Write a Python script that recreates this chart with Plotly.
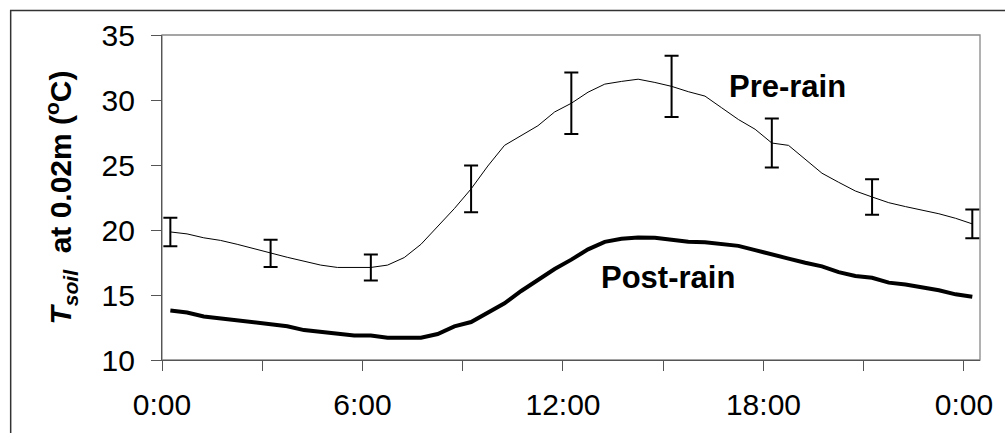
import plotly.graph_objects as go

# hours of day (half-hour readings)
hours = [0.25 + 0.5 * i for i in range(49)]

pre_rain = [19.85, 19.7, 19.4, 19.2, 18.9, 18.55, 18.2, 17.9, 17.6, 17.3,
            17.12, 17.12, 17.12, 17.3, 17.88, 18.9, 20.3, 21.65, 23.16, 24.92,
            26.51, 27.24, 28.02, 29.08, 29.75, 30.6, 31.22, 31.43, 31.6, 31.35,
            31.05, 30.64, 30.3, 29.4, 28.5, 27.75, 26.69, 26.51, 25.43, 24.37,
            23.67, 23.0, 22.54, 22.1, 21.8, 21.55, 21.25, 20.9, 20.47]

post_rain = [13.8, 13.65, 13.35, 13.2, 13.05, 12.9, 12.75, 12.6, 12.3, 12.15,
             12.0, 11.89, 11.89, 11.71, 11.71, 11.71, 12.0, 12.59, 12.92, 13.6,
             14.36, 15.31, 16.19, 17.0, 17.72, 18.51, 19.09, 19.33, 19.42, 19.4,
             19.25, 19.1, 19.05, 18.92, 18.78, 18.45, 18.1, 17.8, 17.48, 17.2,
             16.76, 16.46, 16.32, 15.95, 15.8, 15.6, 15.36, 15.05, 14.86]

# error bars on pre-rain series, every 3 hours
err_hours = [0.25, 3.25, 6.25, 9.25, 12.25, 15.25, 18.25, 21.25, 24.25]
err_vals = [1.1, 1.05, 1.0, 1.8, 2.37, 2.35, 1.89, 1.36, 1.1]

tick_vals = [0, 6, 12, 18, 24]
tick_text = ["0:00", "6:00", "12:00", "18:00", "0:00"]
y_ticks = [10, 15, 20, 25, 30, 35]

FONT = "Liberation Sans, Arial, sans-serif"

err_lookup = dict(zip(err_hours, err_vals))
err_visible_x = [h for h in hours if h in err_lookup]
err_visible_y = [pre_rain[i] for i, h in enumerate(hours) if h in err_lookup]

fig = go.Figure()

fig.add_trace(go.Scatter(
    x=hours, y=post_rain, mode="lines", name="Post-rain",
    line=dict(color="black", width=4), showlegend=False,
))
fig.add_trace(go.Scatter(
    x=hours, y=pre_rain, mode="lines", name="Pre-rain",
    line=dict(color="black", width=1), showlegend=False,
))
fig.add_trace(go.Scatter(
    x=err_visible_x, y=err_visible_y, mode="markers",
    marker=dict(size=1, color="rgba(0,0,0,0)"),
    error_y=dict(type="data", array=err_vals, visible=True,
                 color="black", thickness=2, width=7),
    showlegend=False,
))

fig.update_layout(
    width=1005, height=433,
    margin=dict(l=162, r=22, t=35, b=67),
    paper_bgcolor="white", plot_bgcolor="white",
    font=dict(family=FONT, color="black", size=30),
    xaxis=dict(
        range=[0, 24.48], tickmode="array", tickvals=tick_vals, ticktext=tick_text,
        ticks="outside", ticklen=10, tickwidth=1.3, tickcolor="#555",
        minor=dict(ticks="outside", ticklen=10, tickwidth=1.3, tickcolor="#555",
                   tick0=0, dtick=3, showgrid=False),
        showline=True, linecolor="#555", linewidth=1.3,
        showgrid=False, zeroline=False,
        tickfont=dict(family=FONT, size=30, color="black"),
        ticklabelstandoff=8,
    ),
    yaxis=dict(
        range=[10, 35], tickmode="array", tickvals=y_ticks,
        ticks="outside", ticklen=10, tickwidth=1.3, tickcolor="#555",
        showline=True, linecolor="#555", linewidth=1.3,
        showgrid=False, zeroline=False,
        tickfont=dict(family=FONT, size=30, color="black"),
        ticklabelstandoff=10,
        title=dict(
            text="<b><i>T</i><sub><i>soil</i></sub>  at 0.02m (<sup>o</sup>C)</b>",
            font=dict(family=FONT, size=30, color="black"),
            standoff=20,
        ),
    ),
    shapes=[
        # plot area border (top/right)
        dict(type="rect", xref="paper", yref="paper", x0=0, x1=1, y0=0, y1=1,
             line=dict(color="#888", width=1.3), layer="below"),
        # outer chart frame (cropped at right/bottom)
        dict(type="rect", xref="paper", yref="paper", x0=-0.185, x1=1.2,
             y0=-0.35, y1=1.0755, line=dict(color="#333", width=1.5)),
    ],
    annotations=[
        dict(x=18.72, y=31.07, xref="x", yref="y", text="<b>Pre-rain</b>",
             showarrow=False, font=dict(family=FONT, size=31, color="black")),
        dict(x=15.15, y=16.34, xref="x", yref="y", text="<b>Post-rain</b>",
             showarrow=False, font=dict(family=FONT, size=31, color="black")),
    ],
)

fig.write_html("out.html")
